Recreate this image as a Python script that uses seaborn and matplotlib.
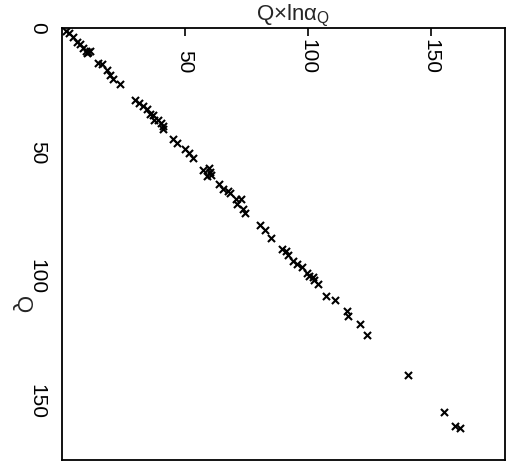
import numpy as np
import pandas as pd
import matplotlib
matplotlib.use("Agg")
import matplotlib.pyplot as plt
import seaborn as sns

# values
q_ln_alpha = [1.6, 2.8, 4.5, 6.1, 7.3, 8.5, 9.8, 10.6, 11.4, 10.2,
              14.6, 16.3, 18.3, 19.5, 20.7, 23.6,
              29.7, 31.3, 32.9, 34.6, 35.8, 37.0, 37.4, 39.0, 40.2, 41.1, 41.1,
              45.1, 46.7, 50.0, 51.6, 53.3,
              57.3, 59.8, 58.9, 60.6, 60.2,
              63.8, 65.4, 67.5, 68.3,
              70.7, 72.8, 71.1, 73.6, 74.4,
              80.5, 82.5, 85.0,
              89.4, 91.1, 91.9, 93.9, 95.5, 97.6,
              99.6, 100.4, 102.0, 102.4, 104.1,
              107.3, 111.0, 115.9, 116.3, 121.1, 124.0,
              140.7, 155.3, 159.8, 161.8]
q_vals = [1.2, 2.0, 3.6, 5.6, 6.4, 8.0, 9.2, 9.6, 9.2, 10.0,
          14.1, 14.5, 16.9, 18.9, 20.5, 22.5,
          28.9, 30.1, 31.3, 32.5, 34.5, 34.9, 36.9, 36.9, 38.2, 39.4, 40.6,
          44.6, 46.2, 48.6, 50.2, 52.2,
          57.0, 56.2, 59.4, 59.0, 57.8,
          62.7, 64.7, 65.5, 66.3,
          68.7, 68.7, 70.7, 72.7, 74.3,
          79.1, 81.1, 84.3,
          88.8, 89.6, 91.2, 93.6, 94.8, 96.0,
          98.4, 99.6, 100.0, 101.2, 102.8,
          107.6, 109.2, 113.7, 115.7, 118.9, 123.3,
          139.4, 154.2, 159.8, 160.6]
x_ticks = [50, 100, 150]
y_ticks = [0, 50, 100, 150]

df = pd.DataFrame({"QlnaQ": q_ln_alpha, "Q": q_vals})

sns.set_style("white")
plt.rcParams["font.family"] = ["Liberation Sans", "DejaVu Sans"]
plt.rcParams["mathtext.fontset"] = "custom"
plt.rcParams["mathtext.rm"] = "Liberation Sans"
plt.rcParams["mathtext.it"] = "Liberation Sans"

fig = plt.figure(figsize=(5.12, 4.63), dpi=100)
ax = fig.add_axes([62 / 512, 1 - 460 / 463, (505 - 62) / 512, (460 - 28) / 463])

sns.scatterplot(data=df, x="QlnaQ", y="Q", marker="x", s=26, color="black",
                linewidth=1.5, ax=ax, legend=False)

ax.set_xlim(0, 180)
ax.set_ylim(173.5, 0)
ax.xaxis.tick_top()
ax.set_xticks(x_ticks)
ax.set_yticks(y_ticks)
ax.tick_params(axis="x", direction="in", length=6, width=1.2, pad=-33,
               labelsize=15, labelrotation=-90, colors="black")
ax.tick_params(axis="y", direction="in", length=7, width=1.2, pad=11,
               labelsize=15, labelrotation=-90, colors="black")
for lab in ax.get_yticklabels():
    lab.set_va("center")
ax.set_xlabel("")
ax.set_ylabel("")
for sp in ax.spines.values():
    sp.set_visible(True)
    sp.set_color("black")
    sp.set_linewidth(1.3)

fig.text(293 / 512, 1 - 16 / 463, r"Q$\times$ln$\alpha_{\mathrm{Q}}$",
         ha="center", va="center", fontsize=16)
fig.text(22 / 512, 1 - 305 / 463, "Q", rotation=-90,
         ha="center", va="center", fontsize=16)

fig.savefig("out.png", dpi=100)
